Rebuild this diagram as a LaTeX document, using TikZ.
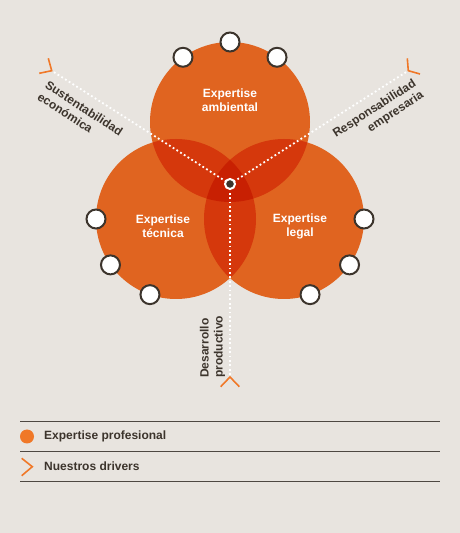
\documentclass[tikz,border=0pt]{standalone}
\usepackage{fontspec}
\setmainfont{Liberation Sans}
\usetikzlibrary{calc}
\definecolor{bg}{RGB}{232,228,223}
\definecolor{orng}{RGB}{224,100,32}
\definecolor{pair}{RGB}{213,56,12}
\definecolor{triple}{RGB}{200,32,2}
\definecolor{ink}{RGB}{60,52,44}
\definecolor{rule}{RGB}{78,72,66}
\definecolor{chev}{RGB}{240,120,40}
\begin{document}
\begin{tikzpicture}[x=1pt,y=1pt,
  lbl/.style={font=\bfseries\fontsize{12}{14}\selectfont, text=ink, inner sep=0pt},
  exp/.style={font=\bfseries\fontsize{12}{14}\selectfont, text=white, align=center, inner sep=0pt},
  knob/.style={circle, draw=ink, line width=2pt, fill=white, minimum size=19pt, inner sep=0pt},
  dots/.style={white, line width=1.8pt, dash pattern=on 1.8pt off 2.6pt},
  chevron/.style={chev, line width=1.6pt},
  legline/.style={rule, line width=1pt}]
\fill[bg] (0,0) rectangle (460,533);
\useasboundingbox (0,0) rectangle (460,533);
\coordinate (P) at (230,349);
\coordinate (T) at (230,411);
\coordinate (L) at (176,314);
\coordinate (R) at (284,314);
% circles
\fill[orng] (T) circle (80) (L) circle (80) (R) circle (80);
\begin{scope}\clip (T) circle (80); \fill[pair] (L) circle (80) (R) circle (80); \end{scope}
\begin{scope}\clip (L) circle (80); \fill[pair] (R) circle (80); \end{scope}
\begin{scope}\clip (T) circle (80); \clip (L) circle (80); \fill[triple] (R) circle (80); \end{scope}
% knobs
\node[knob] (t1) at ($(T)+(126:80)$) {};
\node[knob] (t2) at ($(T)+(90:80)$) {};
\node[knob] (t3) at ($(T)+(54:80)$) {};
\node[knob] (l1) at ($(L)+(180:80)$) {};
\node[knob] (l2) at ($(L)+(215:80)$) {};
\node[knob] (l3) at ($(L)+(251:80)$) {};
\node[knob] (r1) at ($(R)+(0:80)$) {};
\node[knob] (r2) at ($(R)+(325:80)$) {};
\node[knob] (r3) at ($(R)+(289:80)$) {};
% drivers
\coordinate (dUL) at (51.7,462.3);
\coordinate (dUR) at (408.3,462.3);
\coordinate (dB) at (230,156);
\draw[dots] (P) -- (dUL);
\draw[dots] (P) -- (dUR);
\draw[dots] (P) -- (dB);
\draw[chevron] (48.3,474.7) -- (dUL) -- (39.3,459.7);
\draw[chevron] (407.3,474.7) -- (dUR) -- (420,459);
\draw[chevron] (220.7,146.3) -- (dB) -- (239.3,146.3);
\node[circle, fill=ink, draw=white, line width=2pt, minimum size=10pt, inner sep=0pt] (ctr) at (P) {};
% labels
\node[exp] (ea) at (230,433) {Expertise\\ambiental};
\node[exp] (et) at (163,307) {Expertise\\técnica};
\node[exp] (el) at (300,307) {Expertise\\legal};
\node[lbl, rotate=-33, anchor=north west, align=left] (sust) at (49,453) {Sustentabilidad\\económica};
\node[lbl, rotate=33, anchor=north east, align=right] (resp) at (412,455) {Responsabilidad\\empresaria};
\node[lbl, rotate=90, anchor=west, align=left] (des) at (212.5,155) {Desarrollo\\productivo};
% legend
\coordinate (la) at (20,111.5); \coordinate (lb) at (440,111.5);
\coordinate (lc) at (20,81.5); \coordinate (ld) at (440,81.5);
\coordinate (le) at (20,51.5); \coordinate (lf) at (440,51.5);
\draw[legline] (la) -- (lb);
\draw[legline] (lc) -- (ld);
\draw[legline] (le) -- (lf);
\fill[chev] (27,96.5) circle (7);
\node[lbl, anchor=west] (lg1) at (44,96.5) {Expertise profesional};
\draw[chevron] (21.7,74.7) -- (32.3,66.3) -- (21.7,57.3);
\node[lbl, anchor=west] (lg2) at (44,66.5) {Nuestros drivers};
\end{tikzpicture}
\end{document}
